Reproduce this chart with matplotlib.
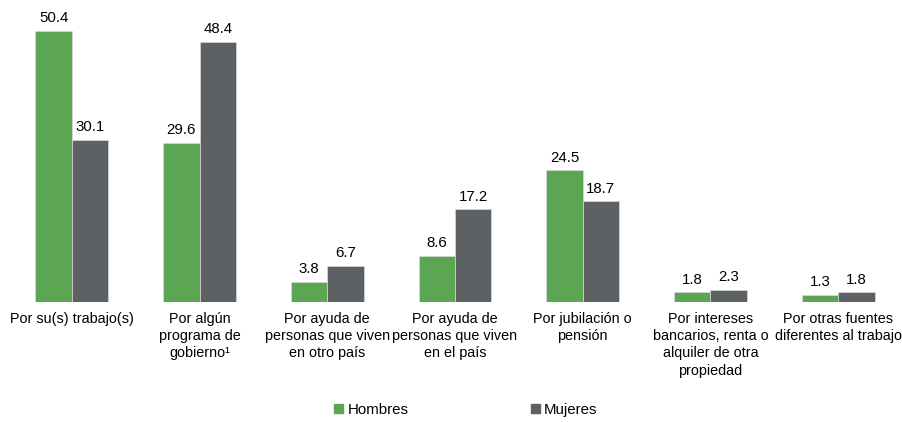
import matplotlib
matplotlib.use("Agg")
import matplotlib.pyplot as plt
import numpy as np
from matplotlib.patches import Patch

plt.rcParams['font.family'] = ['Liberation Sans', 'DejaVu Sans']

categories = [
    "Por su(s) trabajo(s)",
    "Por algún\nprograma de\ngobierno\u00b9",
    "Por ayuda de\npersonas que viven\nen otro país",
    "Por ayuda de\npersonas que viven\nen el país",
    "Por jubilación o\npensión",
    "Por intereses\nbancarios, renta o\nalquiler de otra\npropiedad",
    "Por otras fuentes\ndiferentes al trabajo",
]
hombres = [50.4, 29.6, 3.8, 8.6, 24.5, 1.8, 1.3]
mujeres = [30.1, 48.4, 6.7, 17.2, 18.7, 2.3, 1.8]
series_names = ["Hombres", "Mujeres"]
colors = ["#5BA553", "#5D6163"]

W, H = 903, 422
fig = plt.figure(figsize=(W / 100, H / 100), dpi=100)
ax = fig.add_axes([8 / W, 120 / H, 894 / W, 296 / H])

x = np.arange(len(categories))
bw = 0.285
b1 = ax.bar(x - bw / 2, hombres, bw, color=colors[0], edgecolor="#d9d9d9", linewidth=0.5)
b2 = ax.bar(x + bw / 2, mujeres, bw, color=colors[1], edgecolor="#d9d9d9", linewidth=0.5)

for bars, vals in ((b1, hombres), (b2, mujeres)):
    for r, v in zip(bars, vals):
        ax.annotate(f"{v:.1f}", (r.get_x() + r.get_width() / 2, v), xytext=(0, 4),
                    textcoords="offset points", ha="center", va="bottom", fontsize=10.8, color="#000000")

ax.set_xlim(-0.5, len(categories) - 0.5)
ax.set_ylim(0, 55)
ax.set_xticks(x)
ax.set_xticklabels(categories, fontsize=10.4, linespacing=1.3)
ax.tick_params(axis="x", length=0, pad=7)
ax.set_yticks([])
for s in ax.spines.values():
    s.set_visible(False)
# keep the last label inside the figure
ax.get_xticklabels()[-1].set_x(len(categories) - 1 - 0.03)

handles = [Patch(color=c) for c in colors]
fig.legend(handles, series_names, loc="center", bbox_to_anchor=(466 / W, 1 - 410 / H),
           ncol=2, frameon=False, fontsize=10.8, handlelength=0.6, handleheight=0.6,
           handletextpad=0.3, columnspacing=8.1)

fig.savefig("out.png", dpi=100)
